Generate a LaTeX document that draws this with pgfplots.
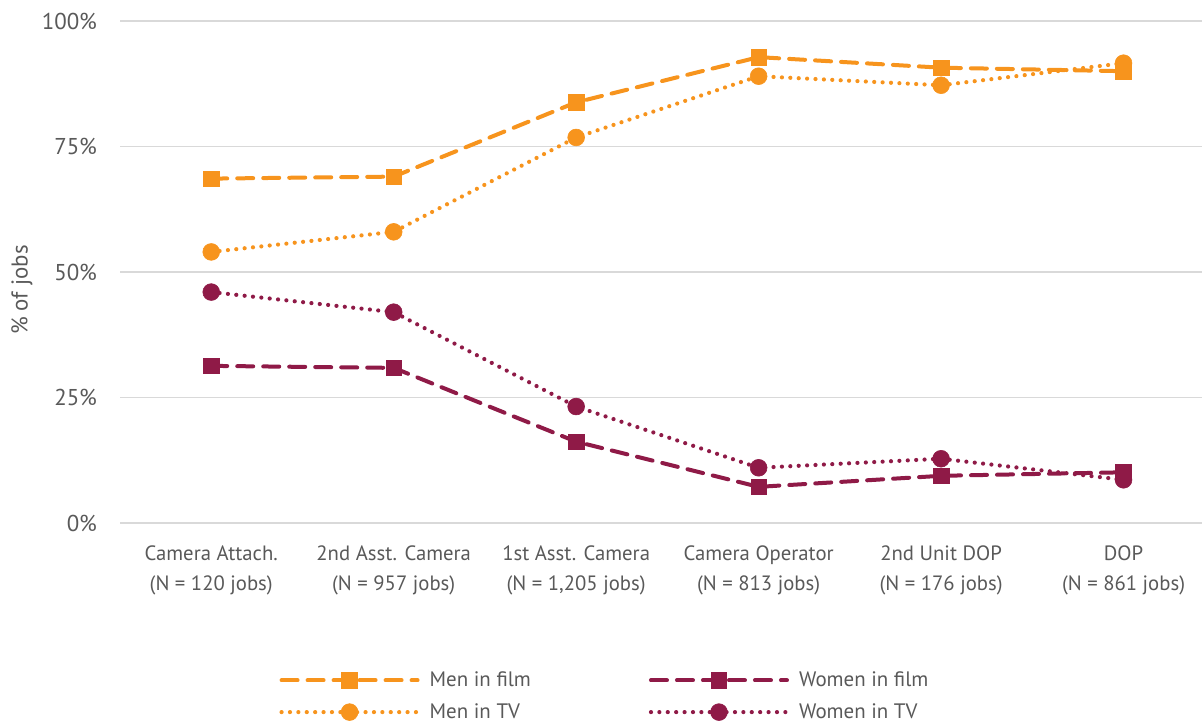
\documentclass[border=0pt]{standalone}
\usepackage{fontspec}
\setmainfont{PT Sans}
\usepackage{pgfplots}
\pgfplotsset{compat=1.18}

\definecolor{menorange}{HTML}{F7941D}
\definecolor{womenred}{HTML}{8F1A47}
\definecolor{txtgray}{HTML}{595959}
\definecolor{gridgray}{HTML}{D9D9D9}

\begin{document}
\begin{tikzpicture}
\path[use as bounding box] (0,0) rectangle (601bp,361.5bp);
\begin{axis}[
  at={(60bp,100bp)}, anchor=south west,
  scale only axis, width=541bp, height=251bp,
  xmin=-0.5, xmax=5.43, ymin=0, ymax=100,
  xtick={0,1,2,3,4,5},
  xticklabels={{Camera Attach.\\(N = 120 jobs)},{2nd Asst. Camera\\(N = 957 jobs)},{1st Asst. Camera\\(N = 1,205 jobs)},{Camera Operator\\(N = 813 jobs)},{2nd Unit DOP\\(N = 176 jobs)},{DOP\\(N = 861 jobs)}},
  ytick={0,25,50,75,100},
  yticklabels={0\%,25\%,50\%,75\%,100\%},
  xticklabel style={align=center, text=txtgray, font=\fontsize{10.4}{15}\selectfont, yshift=-8bp},
  yticklabel style={text=txtgray, font=\fontsize{11.5}{13}\selectfont, xshift=-8bp},
  ylabel={\% of jobs},
  ylabel style={at={(rel axis cs:-0.0906,0.464)}, anchor=center, text=txtgray, font=\fontsize{11.5}{13}\selectfont},
  axis line style={draw=none},
  major tick length=0pt,
  ymajorgrids, grid style={gridgray, line width=0.6bp},
  clip=false,
  legend columns=2,
  legend cell align=left,
  legend style={at={(rel axis cs:0.1415,-0.279)}, anchor=north west, draw=none,
    font=\fontsize{10.5}{12}\selectfont, text=txtgray,
    /tikz/every odd column/.append style={column sep=3bp},
    /tikz/every even column/.append style={column sep=57bp},
    row sep=3bp},
  legend image code/.code={\draw[mark repeat=2, mark phase=2, #1] plot coordinates {(0bp,0bp) (34bp,0bp) (68bp,0bp)};},
]
\addplot[menorange, line width=2bp, dash pattern=on 8bp off 5bp, line cap=round,
  mark=square*, mark size=3.9bp, mark options={solid, line width=0.3bp}]
  coordinates {(0,68.6) (1,69.0) (2,83.8) (3,92.8) (4,90.7) (5,90.0)};
\addlegendentry{Men in film}
\addplot[womenred, line width=2bp, dash pattern=on 8bp off 5bp, line cap=round,
  mark=square*, mark size=3.9bp, mark options={solid, line width=0.3bp}]
  coordinates {(0,31.3) (1,30.9) (2,16.2) (3,7.2) (4,9.4) (5,10.1)};
\addlegendentry{Women in film}
\addplot[menorange, line width=2.1bp, dash pattern=on 0bp off 4.2bp, line cap=round,
  mark=*, mark size=4.2bp, mark options={solid, line width=0.3bp}]
  coordinates {(0,54.0) (1,58.0) (2,76.8) (3,89.0) (4,87.2) (5,91.6)};
\addlegendentry{Men in TV}
\addplot[womenred, line width=2.1bp, dash pattern=on 0bp off 4.2bp, line cap=round,
  mark=*, mark size=4.2bp, mark options={solid, line width=0.3bp}]
  coordinates {(0,46.0) (1,42.0) (2,23.2) (3,11.0) (4,12.8) (5,8.6)};
\addlegendentry{Women in TV}
\end{axis}
\end{tikzpicture}
\end{document}
